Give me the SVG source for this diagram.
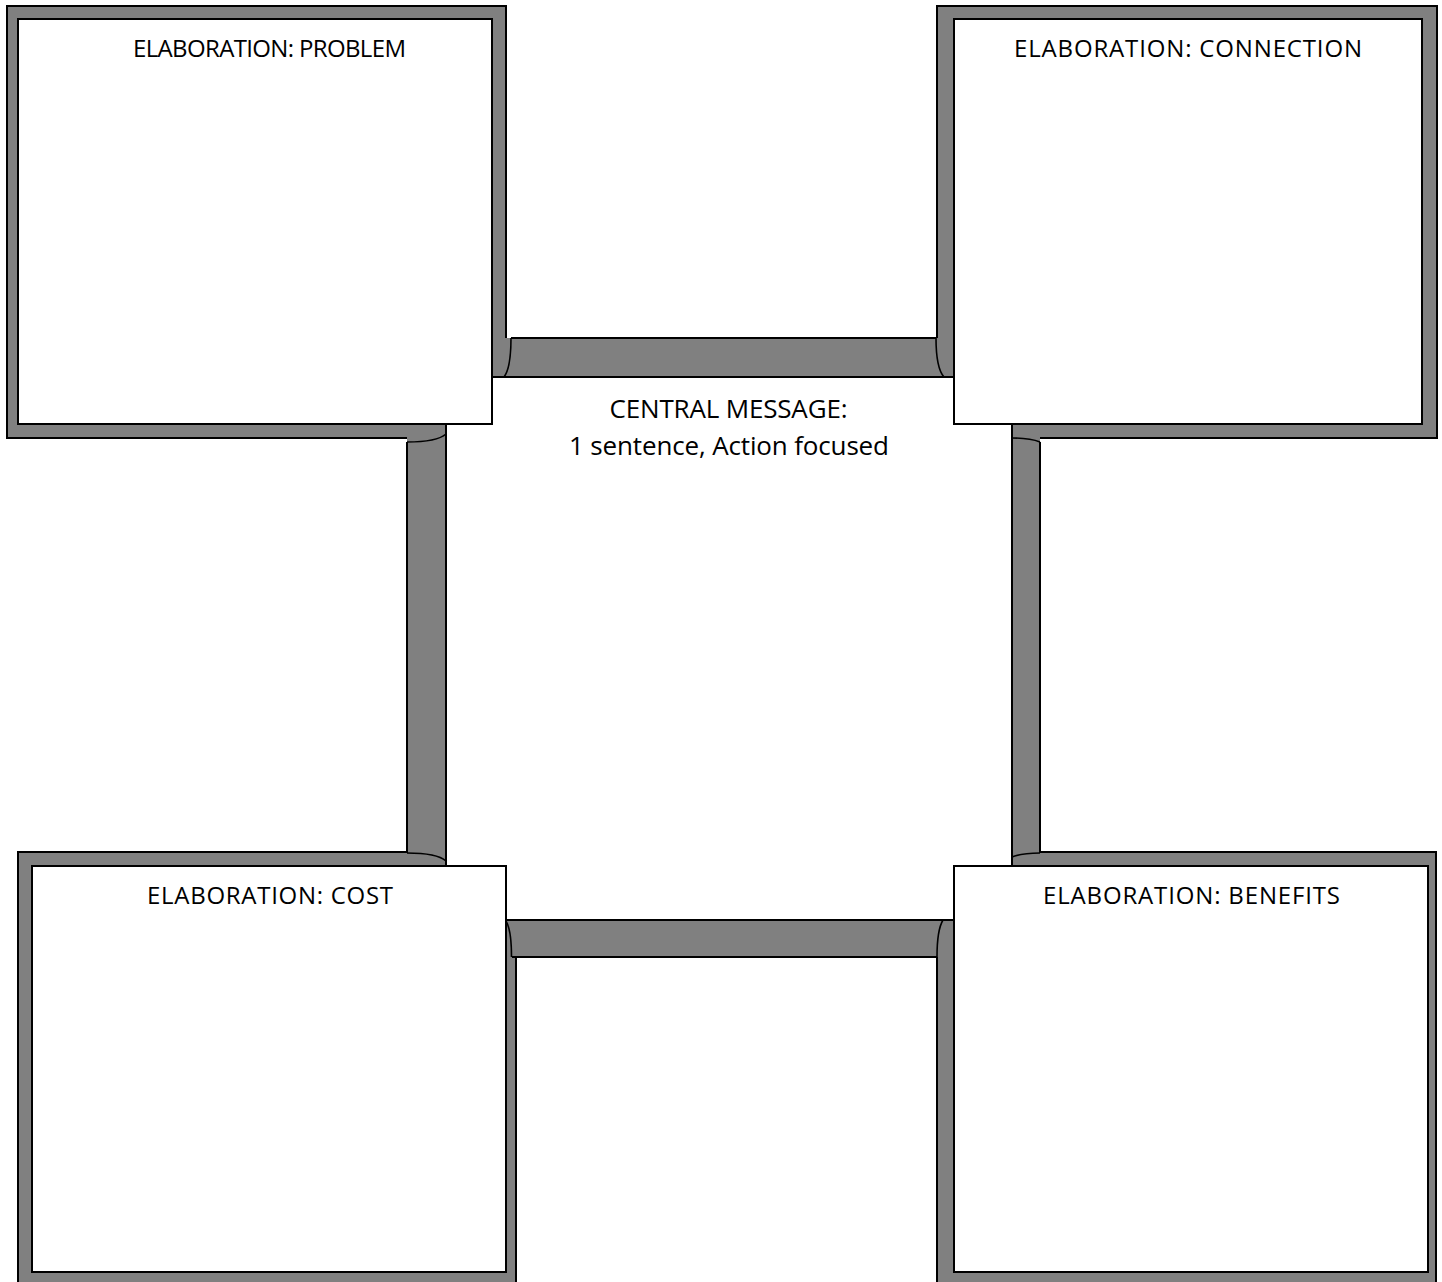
<svg xmlns="http://www.w3.org/2000/svg" width="1442" height="1282" viewBox="0 0 1442 1282">
<style>
.frame{fill:#808080;stroke:#000;stroke-width:2}
.inner{fill:#fff;stroke:#000;stroke-width:2}
.barfill{fill:#808080;stroke:none}
.edge{fill:none;stroke:#000;stroke-width:2}
.curl{fill:none;stroke:#000;stroke-width:1.6}
.title{font-family:"Open Sans","Liberation Sans",sans-serif;font-size:24px;fill:#000;text-anchor:middle}
.center{font-family:"Open Sans","Liberation Sans",sans-serif;font-size:26px;fill:#000;text-anchor:middle}
</style>
<rect width="1442" height="1282" fill="#fff"/>
<g id="frames">
<rect class="frame" x="7" y="6" width="499" height="432"/>
<rect class="frame" x="937" y="6" width="500" height="432"/>
<rect class="frame" x="18" y="852" width="498" height="440"/>
<rect class="frame" x="937" y="852" width="499" height="440"/>
</g>
<g id="connectors">
<rect class="barfill" x="500" y="338" width="445" height="39"/>
<rect class="barfill" x="505" y="920" width="440" height="37"/>
<rect class="barfill" x="407" y="430" width="39" height="436"/>
<rect class="barfill" x="1012" y="430" width="28" height="436"/>
</g>
<g id="central">
<rect class="inner" x="446" y="377" width="566" height="543"/>
<text class="center" x="728.5" y="418" textLength="238">CENTRAL MESSAGE:</text>
<text class="center" x="729" y="455" textLength="320">1 sentence, Action focused</text>
</g>
<g id="problem">
<rect class="inner" x="18" y="19" width="474" height="405"/>
<text class="title" x="269.5" y="57" textLength="273">ELABORATION: PROBLEM</text>
</g>
<g id="connection">
<rect class="inner" x="954" y="19" width="468" height="405"/>
<text class="title" x="1188" y="57" textLength="348">ELABORATION: CONNECTION</text>
</g>
<g id="cost">
<rect class="inner" x="32" y="866" width="474" height="406"/>
<text class="title" x="270" y="904" textLength="246">ELABORATION: COST</text>
</g>
<g id="benefits">
<rect class="inner" x="954" y="866" width="474" height="406"/>
<text class="title" x="1191.5" y="904" textLength="297">ELABORATION: BENEFITS</text>
</g>
<g id="connector-edges">
<path class="edge" d="M511 338 H936"/>
<path class="curl" d="M511 338 Q511 368 504 377"/>
<path class="curl" d="M936 338 Q936 368 944 377"/>
<path class="edge" d="M512 957 H937"/>
<path class="curl" d="M506 921 Q511.5 930 511.5 957"/>
<path class="curl" d="M943 920 Q937 930 937 957"/>
<path class="edge" d="M407 442 V853"/>
<path class="curl" d="M407 442 Q437 442 446 434"/>
<path class="curl" d="M407 853 Q437 853 446 861"/>
<path class="edge" d="M1040 442 V853"/>
<path class="curl" d="M1012 438 Q1030 438 1040 442"/>
<path class="curl" d="M1012 857 Q1022 853 1040 853"/>
</g>
</svg>
